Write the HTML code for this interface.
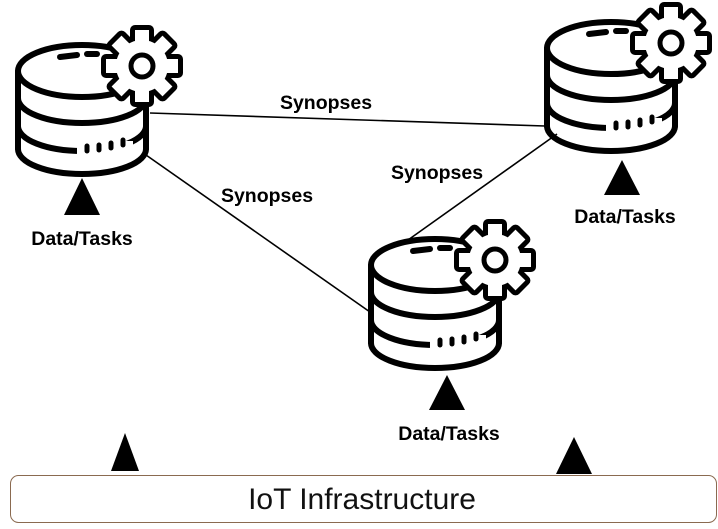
<!DOCTYPE html>
<html><head><style>
html,body{margin:0;padding:0;background:#fff;}
svg{display:block}
text{font-family:"Liberation Sans",sans-serif;}
</style></head><body>
<svg width="718" height="529" viewBox="0 0 718 529" xmlns="http://www.w3.org/2000/svg">
<defs>
<g id="teeth">
  <circle r="26"/>
  <rect x="-7" y="-36" width="14" height="16" transform="rotate(0)"/>
  <rect x="-7" y="-36" width="14" height="16" transform="rotate(45)"/>
  <rect x="-7" y="-36" width="14" height="16" transform="rotate(90)"/>
  <rect x="-7" y="-36" width="14" height="16" transform="rotate(135)"/>
  <rect x="-7" y="-36" width="14" height="16" transform="rotate(180)"/>
  <rect x="-7" y="-36" width="14" height="16" transform="rotate(225)"/>
  <rect x="-7" y="-36" width="14" height="16" transform="rotate(270)"/>
  <rect x="-7" y="-36" width="14" height="16" transform="rotate(315)"/>
</g>
<g id="db">
  <g fill="none" stroke="#000" stroke-width="6" stroke-linecap="round">
    <ellipse cx="67" cy="30" rx="64" ry="26"/>
    <line x1="3" y1="30" x2="3" y2="108"/>
    <line x1="131" y1="30" x2="131" y2="108"/>
    <path d="M3,57 A64,25 0 0 0 131,57"/>
    <path d="M3,85 A64,25 0 0 0 131,85"/>
    <path d="M3,108 A64,25 0 0 0 131,108"/>
    <path d="M45,16 L62,14" /><path d="M72,13 L82,13"/>
  </g>
  <rect x="62" y="100" width="56" height="14" fill="#fff"/>
  <g stroke="#000" stroke-width="5" stroke-linecap="round">
    <line x1="72" y1="105" x2="72" y2="110"/>
    <line x1="84" y1="104" x2="84" y2="109"/>
    <line x1="96" y1="102" x2="96" y2="107"/>
    <line x1="108" y1="99" x2="108" y2="104"/>
  </g>
  <g transform="translate(127,25)">
    <use href="#teeth" fill="#000" stroke="#000" stroke-width="10" stroke-linejoin="round"/>
    <use href="#teeth" fill="#fff"/>
    <circle r="11" fill="none" stroke="#000" stroke-width="5"/>
  </g>
</g>
</defs>

<g stroke="#000" stroke-width="1.6">
  <line x1="150" y1="113" x2="545" y2="126"/>
  <line x1="146" y1="155" x2="370" y2="312"/>
  <line x1="408" y1="240" x2="557" y2="134"/>
</g>

<use href="#db" transform="translate(15,41)"/>
<use href="#db" transform="translate(544,18)"/>
<use href="#db" transform="translate(368,235)"/>

<g fill="#000">
  <polygon points="82,178 64,215 100,215"/>
  <polygon points="622,160 604,195 640,195"/>
  <polygon points="447,375 429,410 465,410"/>
  <polygon points="125,433 111,471 139,471"/>
  <polygon points="574,437 556,474 592,474"/>
</g>

<g font-size="19.5" font-weight="bold" text-anchor="middle" fill="#000">
  <text x="326" y="109">Synopses</text>
  <text x="267" y="202">Synopses</text>
  <text x="437" y="179">Synopses</text>
  <text x="82" y="245">Data/Tasks</text>
  <text x="625" y="223">Data/Tasks</text>
  <text x="449" y="440">Data/Tasks</text>
</g>

<rect x="10.5" y="475.5" width="706" height="47" rx="8" fill="#fff" stroke="#8a6a50" stroke-width="1"/>
<text x="362" y="509" font-size="30" text-anchor="middle" fill="#111">IoT Infrastructure</text>
</svg>
</body></html>
